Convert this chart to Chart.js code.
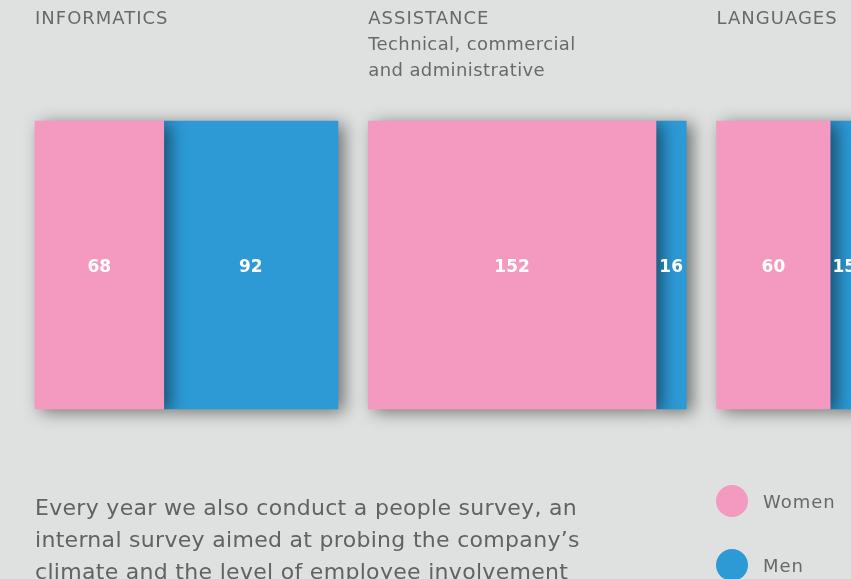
<!DOCTYPE html>
<html>
<head>
<meta charset="utf-8">
<script src="https://cdn.jsdelivr.net/npm/chart.js@4/dist/chart.umd.min.js"></script>
<style>
  html, body { margin: 0; padding: 0; }
  body {
    width: 851px; height: 579px; overflow: hidden; position: relative;
    background: #dfe1e1;
    font-family: "DejaVu Sans", sans-serif;
  }
  #chart { position: absolute; left: 0; top: 0; }
  .intro {
    position: absolute; left: 35px; top: 492px; white-space: nowrap;
    font-size: 22px; line-height: 32px; letter-spacing: 0.3px; color: #5f6364;
  }
  .legend { position: absolute; left: 716px; top: 485px; }
  .legend div { position: relative; height: 64px; padding-left: 47px; font-size: 18px; line-height: 34px; letter-spacing: 1px; color: #656969; }
  .legend span { position: absolute; left: 0; top: 0; width: 32px; height: 32px; border-radius: 50%; }
</style>
</head>
<body>
<canvas id="chart" width="851" height="579"></canvas>
<div class="intro">Every year we also conduct a people survey, an<br>internal survey aimed at probing the company’s<br>climate and the level of employee involvement</div>
<div class="legend">
  <div><span style="background:#f49ac1"></span>Women</div>
  <div><span style="background:#2d9ad6"></span>Men</div>
</div>
<script>
const categories = ["INFORMATICS", "ASSISTANCE", "LANGUAGES"];
const subtitles = [[], ["Technical, commercial", "and administrative"], []];
const women = [68, 152, 60];
const men = [92, 16, 15];
const gap = 16;

const pink = "#f49ac1";
const blue = "#2d9ad6";

// start of each group on the x scale
const starts = [];
let pos = 0;
for (let i = 0; i < categories.length; i++) {
  starts.push(pos);
  pos += women[i] + men[i] + gap;
}

const datasets = [];
categories.forEach((c, i) => {
  datasets.push({ label: "Women", data: [[starts[i], starts[i] + women[i]]], backgroundColor: pink, value: women[i] });
});
categories.forEach((c, i) => {
  datasets.push({ label: "Men", data: [[starts[i] + women[i], starts[i] + women[i] + men[i]]], backgroundColor: blue, value: men[i] });
});

const decor = {
  id: "decor",
  beforeDatasetsDraw(chart) {
    const ctx = chart.ctx;
    ctx.save();
    ctx.shadowColor = "rgba(0,0,0,0.5)";
    ctx.shadowBlur = 16;
    ctx.shadowOffsetX = 6;
    ctx.shadowOffsetY = 3;
  },
  afterDatasetsDraw(chart) {
    const ctx = chart.ctx;
    ctx.restore();
    const xs = chart.scales.x;
    ctx.save();
    ctx.textAlign = "center";
    ctx.textBaseline = "middle";
    ctx.fillStyle = "#fff";
    ctx.font = "bold 17px 'DejaVu Sans'";
    chart.data.datasets.forEach((ds, d) => {
      const el = chart.getDatasetMeta(d).data[0];
      const p = el.getCenterPoint();
      ctx.fillText(ds.value, p.x, p.y + 3);
    });
    ctx.textAlign = "left";
    ctx.textBaseline = "alphabetic";
    ctx.fillStyle = "#666a6b";
    categories.forEach((c, i) => {
      const x = xs.getPixelForValue(starts[i]);
      ctx.font = "18px 'DejaVu Sans'";
      ctx.letterSpacing = "1px";
      ctx.fillText(c, x, 24);
      ctx.letterSpacing = "0.4px";
      subtitles[i].forEach((s, k) => ctx.fillText(s, x, 50 + k * 26));
    });
    ctx.restore();
  }
};

new Chart(document.getElementById("chart"), {
  type: "bar",
  data: { labels: [""], datasets: datasets },
  options: {
    responsive: false,
    animation: false,
    indexAxis: "y",
    grouped: false,
    barPercentage: 1,
    categoryPercentage: 1,
    layout: { padding: { left: 35, right: 0, top: 121, bottom: 170 } },
    datasets: { bar: { clip: false } },
    plugins: { legend: { display: false }, tooltip: { enabled: false } },
    scales: {
      x: { display: false, min: 0, max: 431 },
      y: { display: false }
    }
  },
  plugins: [decor]
});
</script>
</body>
</html>
